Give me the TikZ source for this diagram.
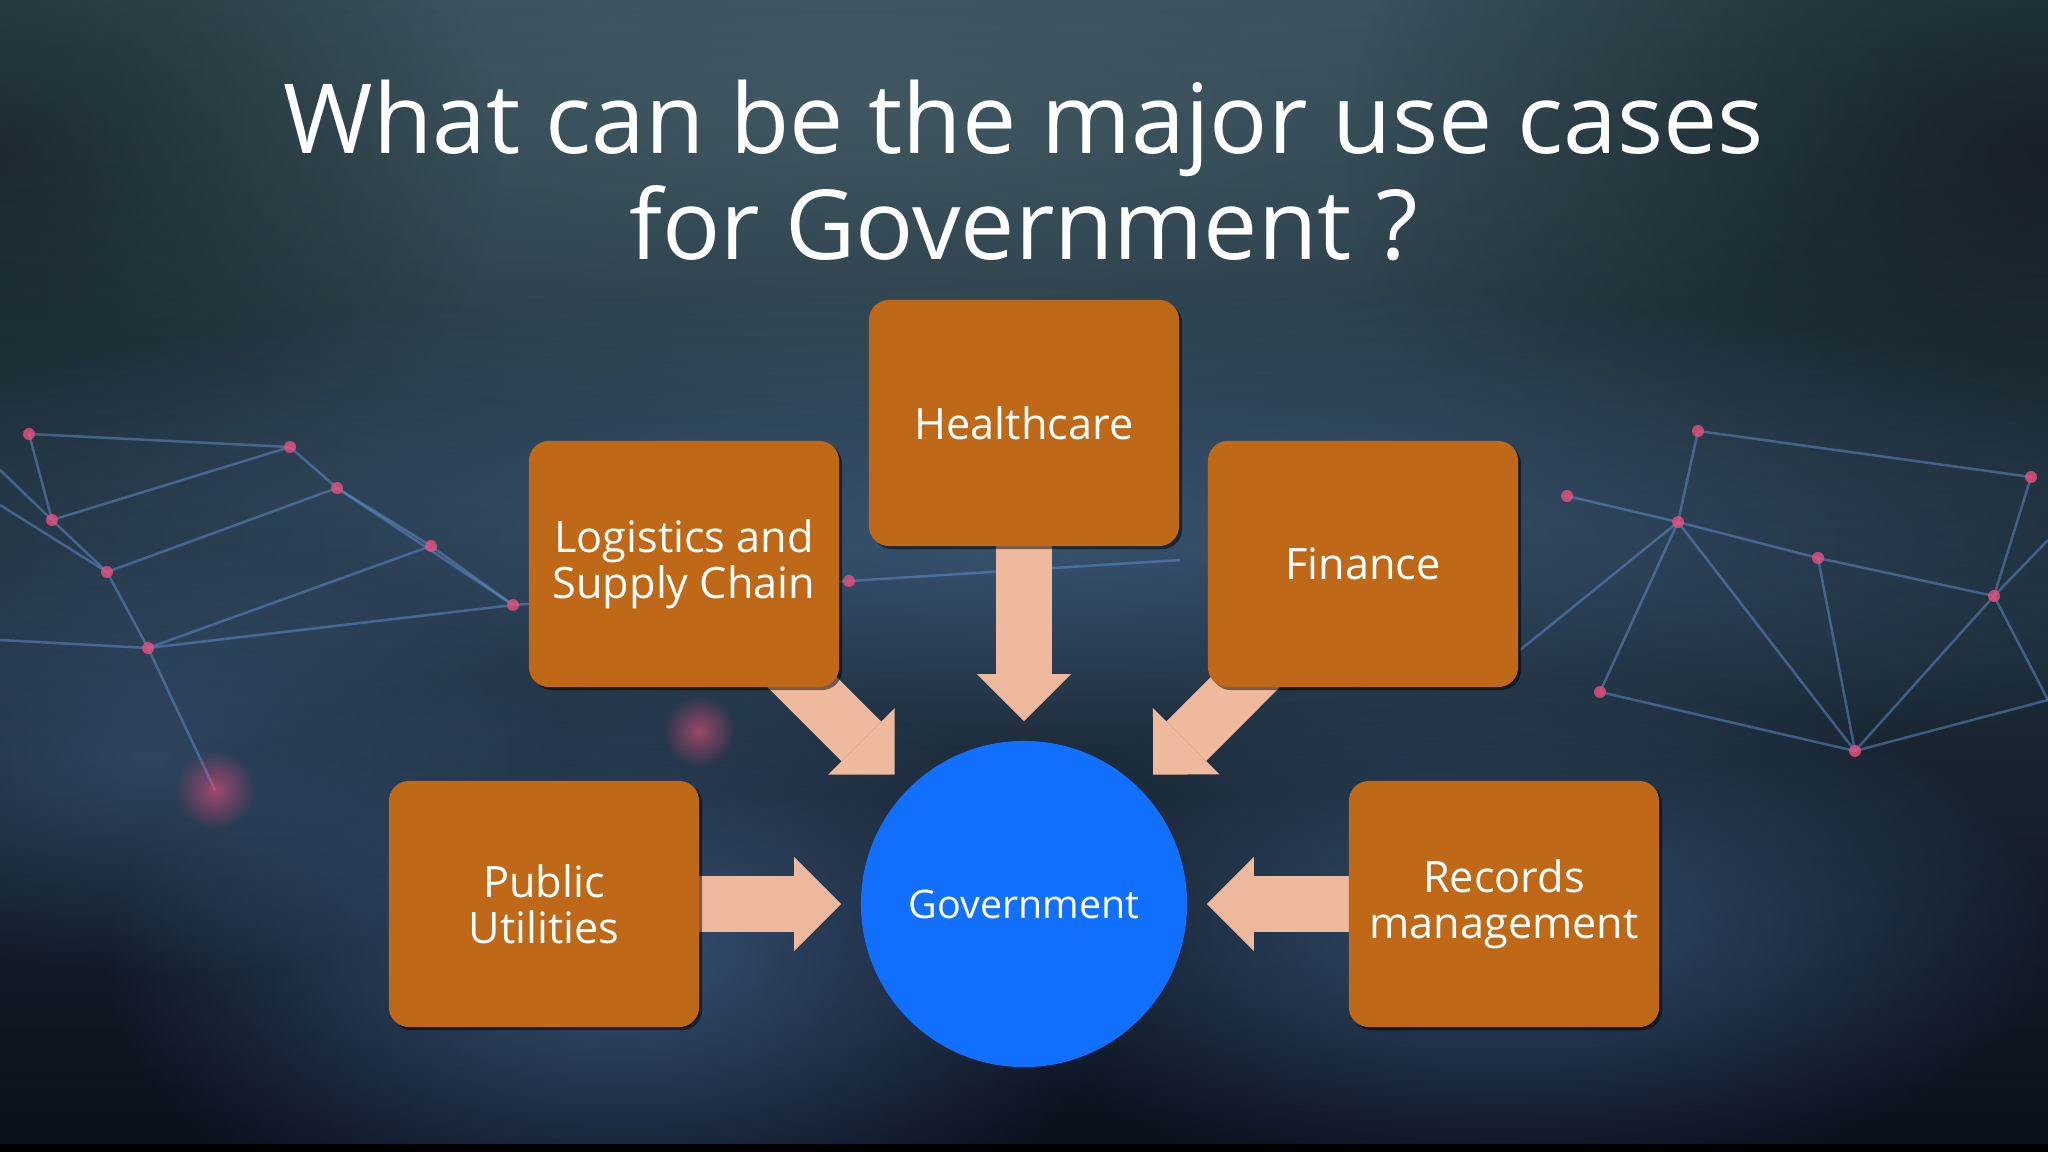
\documentclass[tikz,border=0pt]{standalone}
\usepackage{fontspec}
\setmainfont{Open Sans}
\usepackage{xcolor}
\usetikzlibrary{arrows.meta, shadows, fadings}

\definecolor{boxorange}{RGB}{191,104,23}
\definecolor{arrowpeach}{RGB}{239,185,157}
\definecolor{govblue}{RGB}{17,112,255}
\definecolor{bgtop}{RGB}{50,76,86}
\definecolor{bgmid}{RGB}{22,36,52}
\definecolor{bgbot}{RGB}{10,16,28}
\definecolor{netblue}{RGB}{100,145,210}
\definecolor{netpink}{RGB}{235,80,125}

\tikzfading[name=softglow, inner color=transparent!0, outer color=transparent!100]

\pgfdeclarelayer{bg}
\pgfdeclarelayer{arrowlayer}
\pgfsetlayers{bg,arrowlayer,main}

\begin{document}
\begin{tikzpicture}[
    x=0.01cm, y=-0.01cm,
    usecase/.style={fill=boxorange, rounded corners=0.2cm, minimum width=3.1cm, minimum height=2.46cm, align=center, text=white, font=\fontsize{12.3}{13.2}\selectfont, drop shadow={shadow xshift=0.03cm, shadow yshift=-0.03cm, fill=black, opacity=0.5}},
    hub/.style={circle, fill=govblue, minimum size=3.26cm, inner sep=0pt, text=white, font=\fontsize{11.2}{13}\selectfont},
    heading/.style={text=white, anchor=base, inner sep=0pt, font=\fontsize{27.5}{30}\selectfont},
    bigarrow/.style={draw=arrowpeach, line width=0.56cm, -{Triangle[length=0.47cm, width=0.94cm, line width=0pt]}, shorten >=0.19cm},
    netline/.style={netblue, line width=0.025cm, opacity=0.5},
    netdot/.style={fill=netpink, opacity=0.8},
    glow/.style={path fading=softglow},
]
\useasboundingbox (0,0) rectangle (2048,1152);

% Background
\begin{pgfonlayer}{bg}
\fill[top color=bgtop, middle color=bgmid, bottom color=bgbot] (0,0) rectangle (2048,1152);
\fill[glow, bgtop!80!white, opacity=0.4] (850,100) ellipse (1100 and 330);
\fill[glow, black, opacity=0.5] (2048,150) ellipse (700 and 500);
\fill[glow, black, opacity=0.4] (0,150) ellipse (500 and 400);
\fill[glow, netblue, opacity=0.35] (1024,540) ellipse (1400 and 260);
\fill[glow, netblue, opacity=0.45] (620,960) ellipse (520 and 300);
\fill[glow, netblue, opacity=0.40] (1500,930) ellipse (560 and 260);
\fill[glow, netblue, opacity=0.30] (150,760) ellipse (420 and 220);
\fill[black] (0,1144) rectangle (2048,1152);

% Network lines
\foreach \xa/\ya/\xb/\yb in {29/434/52/520, 52/520/107/572, 107/572/148/648, 29/434/290/447, 52/520/290/447,
                   290/447/337/488, 107/572/337/488, 337/488/431/546, 148/648/431/546, 431/546/513/605,
                   148/648/513/605, 0/505/107/572, 0/640/148/648, 52/520/0/470, 148/648/215/790,
                   337/488/513/605, 513/605/849/581, 849/581/1180/560}
  {\draw[netline] (\xa,\ya) -- (\xb,\yb);}
\foreach \xa/\ya/\xb/\yb in {1567/496/1678/522, 1678/522/1818/558, 1818/558/1994/596, 1678/522/1855/751,
                   1855/751/1994/596, 1600/692/1678/522, 1698/431/1678/522, 1698/431/2031/477,
                   2031/477/1994/596, 1994/596/2048/540, 1994/596/2048/700, 1855/751/2048/700,
                   1600/692/1855/751, 1520/650/1678/522, 1818/558/1855/751}
  {\draw[netline] (\xa,\ya) -- (\xb,\yb);}
\foreach \px/\py in {29/434, 52/520, 107/572, 148/648, 290/447, 337/488, 431/546, 513/605, 849/581,
                1567/496, 1678/522, 1818/558, 1994/596, 1855/751, 1600/692, 1698/431, 2031/477}
  {\fill[netdot] (\px,\py) circle (6);}
\fill[glow, netpink, opacity=0.6] (215,790) circle (40);
\fill[glow, netpink, opacity=0.6] (699,731) circle (36);
\end{pgfonlayer}

% Title
\node[heading] (title1) at (1024,154) {What can be the major use cases};
\node[heading] (title2) at (1024,260) {for Government ?};

% Use cases
\node[usecase] (health) at (1024,423) {Healthcare};
\node[usecase] (logi) at (684,564) {Logistics and\\Supply Chain};
\node[usecase] (fin) at (1363,564) {Finance};
\node[usecase] (pub) at (544,904) {Public\\Utilities};
\node[usecase] (rec) at (1504,904) {Records\\management};

% Centre
\node[hub] (gov) at (1024,904) {Government};

% Arrows
\begin{pgfonlayer}{arrowlayer}
\draw[bigarrow] (health.center) -- (gov);
\draw[bigarrow] (logi.center) -- (gov);
\draw[bigarrow] (fin.center) -- (gov);
\draw[bigarrow] (pub.center) -- (gov);
\draw[bigarrow] (rec.center) -- (gov);
\end{pgfonlayer}

\end{tikzpicture}
\end{document}
